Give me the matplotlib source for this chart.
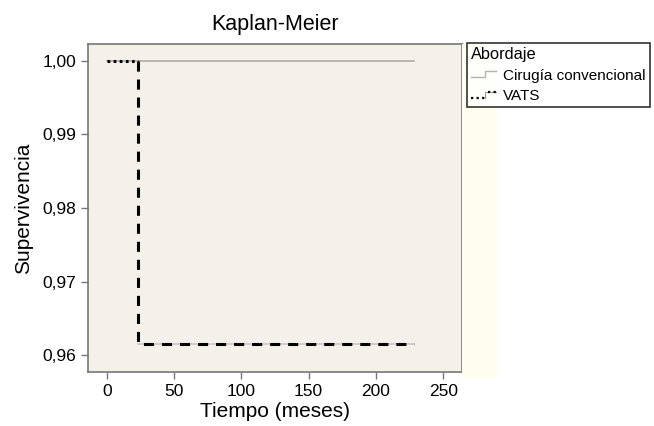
import matplotlib
matplotlib.use("Agg")
import matplotlib.pyplot as plt
from matplotlib.lines import Line2D
from matplotlib.legend_handler import HandlerLine2D
from matplotlib.patches import Rectangle

plt.rcParams["font.family"] = ["Liberation Sans", "DejaVu Sans"]

# Data
groups = ["Cirugía convencional", "VATS"]
cirugia_t = [0, 228]
cirugia_s = [1.0, 1.0]
vats_t = [0, 23, 228]
vats_s = [1.0, 0.9615, 0.9615]
xticks = [0, 50, 100, 150, 200, 250]
yticks = [0.96, 0.97, 0.98, 0.99, 1.00]
ytick_labels = ["0,96", "0,97", "0,98", "0,99", "1,00"]

fig = plt.figure(figsize=(6.54, 4.26), dpi=100)
fig.patch.set_facecolor("white")

# light yellow strip right of axes
fig.patches.append(Rectangle((462/654, 1-378/426), (497-462)/654, (378-44)/426,
                             transform=fig.transFigure, facecolor="#fefdf0",
                             edgecolor="none", zorder=0))

ax = fig.add_axes([88/654, 1-372/426, (462-88)/654, (372-44)/426])
ax.set_facecolor("#f4f1ea")

# Cirugía convencional (grey)
ax.step(cirugia_t, cirugia_s, where="post", color="#b5b2ab", lw=1.3, zorder=2)

# VATS: lavender underline, dotted first step, dashed afterwards
ax.step(vats_t[1:], vats_s[1:], where="post", color="#cfc6d6", lw=1.3, zorder=2)
ax.plot(vats_t[:2], [vats_s[0], vats_s[0]], color="black", lw=2.2,
        linestyle=(0, (0.9, 1.1)), zorder=3)
ax.plot([vats_t[1], vats_t[1], vats_t[2]], [vats_s[0], vats_s[1], vats_s[2]],
        color="black", lw=2.2, linestyle=(0, (3.3, 2.6)), zorder=3)

ax.set_xlim(-14, 264)
ax.set_ylim(0.9577, 1.0023)
ax.set_xticks(xticks)
ax.set_xticklabels([str(t) for t in xticks])
ax.set_yticks(yticks)
ax.set_yticklabels(ytick_labels)
ax.tick_params(axis="both", labelsize=12.5, color="#777777", length=5, width=1)
for s in ax.spines.values():
    s.set_color("#777777")
    s.set_linewidth(1.2)

ax.set_title("Kaplan-Meier", fontsize=15.5, pad=10)
ax.set_xlabel("Tiempo (meses)", fontsize=15, labelpad=2)
ax.set_ylabel("Supervivencia", fontsize=15, labelpad=7)


class StepHandler(HandlerLine2D):
    def __init__(self, dotted_first=False, **kw):
        super().__init__(**kw)
        self.dotted_first = dotted_first

    def create_artists(self, legend, orig_handle, xdescent, ydescent, width,
                       height, fontsize, trans):
        x0, x1 = -xdescent, -xdescent + width
        xm = x0 + width * 0.55
        ylo = -ydescent + height * 0.2
        yhi = -ydescent + height * 0.8
        col = orig_handle.get_color()
        lw = orig_handle.get_linewidth()
        if self.dotted_first:
            l1 = Line2D([x0, xm], [ylo, ylo], color=col, lw=lw,
                        linestyle=(0, (1, 1.5)), transform=trans)
            l2 = Line2D([xm, xm, x1], [ylo, yhi, yhi], color="#999999", lw=0.8,
                        transform=trans)
            l3 = Line2D([x1 - width * 0.3, x1], [yhi, yhi], color=col, lw=lw,
                        linestyle=(0, (1, 1.5)), transform=trans)
            return [l2, l1, l3]
        l = Line2D([x0, xm, xm, x1], [ylo, ylo, yhi, yhi], color=col, lw=lw,
                   transform=trans)
        return [l]


h1 = Line2D([], [], color="#b5b2ab", lw=1.0)
h2 = Line2D([], [], color="black", lw=1.6)
leg = fig.legend([h1, h2], groups, title="Abordaje",
                 loc="upper left", bbox_to_anchor=(467/654, 1-43/426),
                 bbox_transform=fig.transFigure,
                 handler_map={h1: StepHandler(), h2: StepHandler(dotted_first=True)},
                 fontsize=11, title_fontsize=11.8, handlelength=1.6,
                 handletextpad=0.5, labelspacing=0.42, borderpad=0.28,
                 handleheight=0.6,
                 frameon=True, fancybox=False, edgecolor="black",
                 alignment="left", borderaxespad=0)
leg.get_frame().set_linewidth(1.2)

fig.savefig("out.png", dpi=100)
